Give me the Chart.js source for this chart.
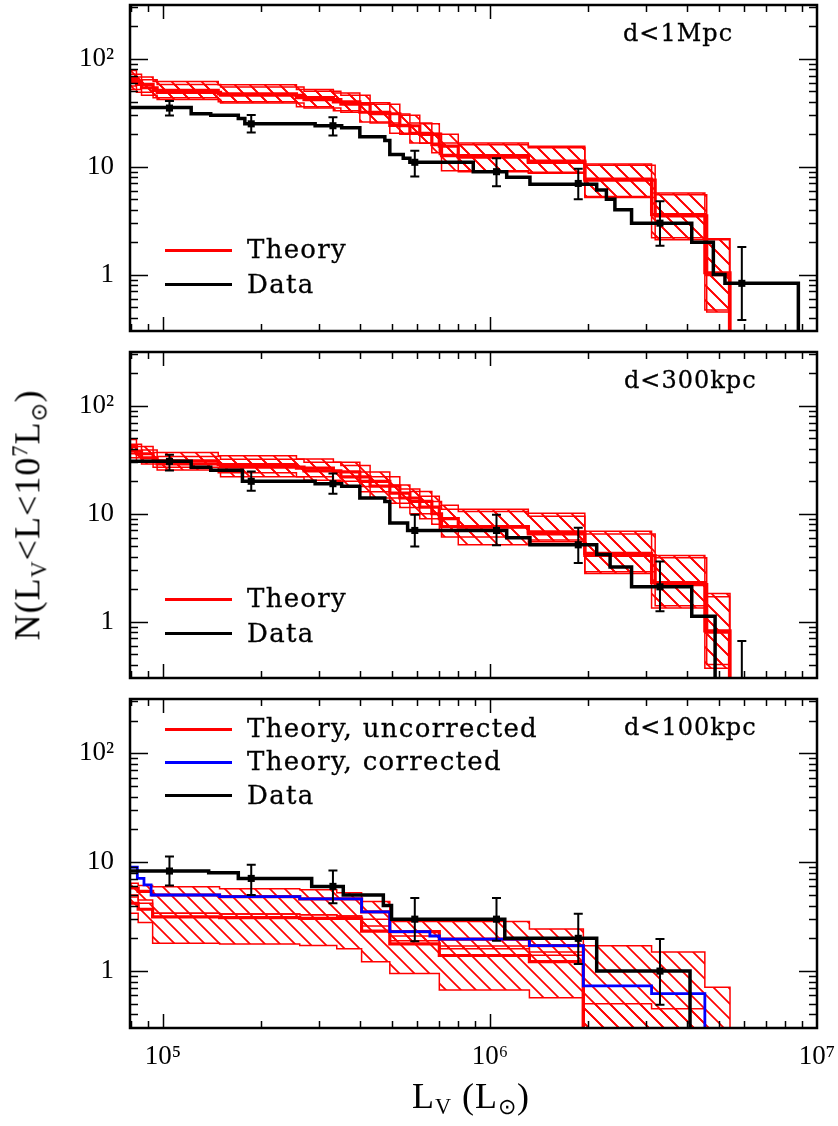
<!DOCTYPE html>
<html>
<head>
<meta charset="utf-8">
<script src="https://cdn.jsdelivr.net/npm/chart.js@4.4.1/dist/chart.umd.min.js"></script>
<style>
  html, body { margin: 0; padding: 0; background: #fff; }
  #wrap { position: relative; width: 838px; height: 1126px; overflow: hidden; }
  canvas { position: absolute; left: 0; }
  .lab { position: absolute; font-family: "DejaVu Serif", serif; font-size: 26px; color: #000;
         white-space: nowrap; line-height: 1; letter-spacing: 1.3px; transform: translateY(-50%);
         -webkit-text-stroke: 0.3px #000; }
  .lab.d { font-size: 24px; letter-spacing: 1px; }
  .key { position: absolute; left: 165px; width: 67px; height: 3px; margin-top: -1.5px; }
  .title { position: absolute; font-family: "Liberation Serif", serif; font-size: 36px; color: #000;
           white-space: nowrap; line-height: 1; letter-spacing: 1px; }
  .title sub { font-size: 0.62em; vertical-align: -0.3em; }
  .title sup { font-size: 0.62em; vertical-align: 0.55em; }
</style>
</head>
<body>
<div id="wrap">
  <canvas id="c1" width="838" height="336" style="top:0px"></canvas>
  <canvas id="c2" width="838" height="336" style="top:347px"></canvas>
  <canvas id="c3" width="838" height="432" style="top:694px"></canvas>

  <div class="lab d" style="left:623px; top:33px">d&lt;1Mpc</div>
  <div class="lab d" style="left:624px; top:380px">d&lt;300kpc</div>
  <div class="lab d" style="left:624px; top:727px">d&lt;100kpc</div>

  <div class="key" style="top:250px; background:#ff0000"></div>
  <div class="lab" style="left:247px; top:249px">Theory</div>
  <div class="key" style="top:284px; background:#000"></div>
  <div class="lab" style="left:247px; top:284px">Data</div>

  <div class="key" style="top:599px; background:#ff0000"></div>
  <div class="lab" style="left:247px; top:598px">Theory</div>
  <div class="key" style="top:633px; background:#000"></div>
  <div class="lab" style="left:247px; top:633px">Data</div>

  <div class="key" style="top:729px; background:#ff0000"></div>
  <div class="lab" style="left:247px; top:728px">Theory, uncorrected</div>
  <div class="key" style="top:762px; background:#0000ff"></div>
  <div class="lab" style="left:247px; top:761px">Theory, corrected</div>
  <div class="key" style="top:795px; background:#000"></div>
  <div class="lab" style="left:247px; top:795px">Data</div>

  <div class="title" style="left:30px; top:515px; transform:translate(-50%,-50%) rotate(-90deg)">N(L<sub>V</sub>&lt;L&lt;10<sup>7</sup>L<sub>⊙</sub>)</div>
  <div class="title" style="left:471px; top:1098px; transform:translate(-50%,-50%)">L<sub>V</sub> (L<sub>⊙</sub>)</div>
</div>

<script>
// ===============================
// DATA
// ===============================
const xMin = 7.93e4, xMax = 1e7;
const yMin = 0.318, yMax = 316;
const xTicks = [1e5, 1e6, 1e7];
const yTicks = [1, 10, 100];
const tickText = { 1: '1', 10: '10', 100: '10²', 100000: '10⁵', 1000000: '10⁶', 10000000: '10⁷' };

// error-bar positions (same luminosities in every panel)
const errL = [1.047e5, 1.862e5, 3.31e5, 5.89e5, 1.047e6, 1.862e6, 3.31e6, 5.89e6];

// --- panel 1: d<1Mpc ---
const p1DataL = [7.93e4, 1.22e5, 1.40e5, 1.70e5, 1.78e5, 2.92e5, 3.52e5, 4.0e5, 4.77e5, 4.94e5, 5.43e5, 5.69e5,
                 8.89e5, 1.125e6, 1.325e6, 2.12e6, 2.27e6, 2.41e6, 2.71e6, 4.14e6, 4.82e6, 5.23e6, 8.77e6];
const p1DataN = [35.5, 31, 30, 28, 25, 24, 23, 19, 17.5, 13, 12, 11, 9, 8, 6.9, 6.1, 5, 4, 3, 2, 1.0, 0.83, 0.1];
const p1ErrN  = [35, 25, 24, 11, 9, 7, 3, 0.83];
const p1ErrLo = [29.8, 20.8, 19.5, 8.1, 6.6, 5.0, 1.85, 0.38];
const p1ErrHi = [40.7, 30.2, 28.8, 14.1, 12.0, 9.6, 4.8, 1.8];

const p1A_L   = [7.93e4, 8.3e4, 9.33e4, 1.476e5, 2.56e5, 3.32e5, 4.0e5, 4.94e5, 5.69e5, 6.64e5, 7.11e5, 1.31e6, 1.95e6, 3.12e6, 4.54e6, 5.42e6];
const p1A_hi  = [78, 68, 61.6, 57.5, 51.9, 48.4, 39.3, 30.8, 25.5, 20.4, 16.6, 15.5, 10.6, 5.7, 2.15, 0.1];
const p1A_mid = [66, 58, 51, 47.3, 43.7, 40, 32, 24.2, 20.4, 16, 12.7, 11.3, 7.7, 3.6, 1.04, 0.1];
const p1A_lo  = [56, 49, 43.7, 40.1, 36, 33, 26, 20.4, 16.6, 13.5, 9.2, 8.9, 5.3, 2.2, 0.47, 0.1];
const p1B_L   = [7.93e4, 8.6e4, 9.6e4, 1.5e5, 2.7e5, 3.5e5, 4.3e5, 5.3e5, 6.1e5, 7.0e5, 8.0e5, 1.31e6, 1.95e6, 3.2e6, 4.6e6, 5.4e6];
const p1B_hi  = [72, 64, 58, 55, 50, 46, 38, 30, 25, 20, 16, 15, 10.3, 5.5, 2.1, 0.1];
const p1B_mid = [62, 54, 49, 46, 42, 38, 31, 24, 20, 15.5, 12.3, 11, 7.5, 3.5, 1.0, 0.1];
const p1B_lo  = [52, 46, 42, 39, 35, 32, 25.5, 20, 16.5, 13, 9.0, 8.7, 5.2, 2.1, 0.45, 0.1];

// --- panel 2: d<300kpc ---
const p2DataL = [7.93e4, 1.22e5, 1.40e5, 1.75e5, 2.92e5, 3.52e5, 4.0e5, 4.77e5, 4.94e5, 5.6e5,
                 1.125e6, 1.325e6, 2.12e6, 2.33e6, 2.71e6, 4.14e6, 4.88e6];
const p2DataN = [30.6, 27, 25.3, 20, 19, 18, 14, 13, 8.2, 7, 6, 5.15, 4.2, 3.2, 2.1, 1.12, 0.1];
const p2ErrN  = [30.6, 20, 19, 7, 7, 5.15, 2.1, null];
const p2ErrLo = [25.2, 16.3, 15.3, 4.97, 5.1, 3.5, 1.25, 0.1];
const p2ErrHi = [35.2, 24.7, 23.6, 9.8, 9.8, 7.4, 3.6, 0.66];

const p2A_hi  = [48.7, 42, 36.9, 34.5, 32.2, 30, 24.4, 18.5, 16.1, 13, 11, 10.1, 6.9, 4.1, 1.82, 0.1];
const p2A_mid = [42, 36, 31, 28.5, 26.5, 24.5, 20, 15.5, 13, 10, 7.6, 6.8, 4.3, 2.3, 0.82, 0.1];
const p2A_lo  = [36, 31, 27, 24, 22, 20, 16, 12.5, 10, 8, 6.1, 5.7, 2.8, 1.34, 0.37, 0.1];
const p2B_hi  = [44, 39, 34, 32, 30, 28, 22, 17, 14.5, 12, 10.5, 9.5, 6.5, 3.9, 1.7, 0.1];
const p2B_mid = [38, 33, 29, 27, 25, 22, 18, 14, 11.5, 9, 7.5, 6.5, 4.1, 2.2, 0.8, 0.1];
const p2B_lo  = [33, 29, 25.5, 22, 20.5, 17.9, 14, 11.4, 9, 7, 5.15, 5.5, 2.9, 1.4, 0.4, 0.1];

// --- panel 3: d<100kpc ---
const p3DataL = [7.93e4, 1.38e5, 1.70e5, 2.85e5, 3.56e5, 4.72e5, 5.0e5, 1.11e6, 2.12e6, 4.09e6];
const p3DataN = [8.3, 8.0, 7.1, 6, 5, 4, 3, 2, 1, 0.1];
const p3ErrN  = [8.3, 7.1, 6, 3, 3, 2, 1];
const p3ErrLo = [6.1, 5.0, 4.2, 1.88, 1.9, 1.16, 0.49];
const p3ErrHi = [11.3, 9.5, 8.4, 4.7, 4.7, 3.36, 1.97];

const p3CorrL = [7.93e4, 8.35e4, 8.75e4, 9.2e4, 1.49e5, 2.62e5, 4.05e5, 4.94e5, 6.55e5, 7.0e5, 1.32e6, 1.93e6, 3.12e6, 4.54e6];
const p3CorrN = [9.0, 7.1, 6.2, 5.0, 4.84, 4.6, 3.5, 2.3, 2.1, 1.97, 1.71, 0.73, 0.62, 0.1];

const p3L     = [7.93e4, 8.4e4, 9.3e4, 1.49e5, 2.62e5, 3.4e5, 4.05e5, 4.94e5, 7.0e5, 1.32e6, 1.93e6, 3.12e6, 4.54e6, 5.42e6];
const p3A_hi  = [6.4, 6.1, 5.95, 5.7, 5.6, 5.25, 4.36, 2.86, 2.86, 2.43, 1.71, 1.5, 0.71, 0.1];
const p3A_mid = [5.8, 5.4, 5.0, 4.84, 4.6, 4.6, 3.5, 2.3, 1.97, 1.71, 0.25, 0.2, 0.1, 0.1];
const p3A_lo  = [5.0, 4.5, 3.4, 3.35, 3.3, 3.2, 2.6, 1.9, 1.6, 1.4, 0.1, 0.1, 0.1, 0.1];
const p3B_hi  = [4.8, 4.2, 3.4, 3.35, 3.3, 3.2, 3.0, 2.1, 1.7, 1.5, 0.5, 0.45, 0.2, 0.1];
const p3B_mid = [4.2, 3.7, 3.15, 3.1, 3.05, 3.05, 2.33, 1.78, 1.39, 1.22, 0.2, 0.1, 0.1, 0.1];
const p3B_lo  = [3.4, 2.8, 1.8, 1.77, 1.72, 1.6, 1.22, 0.95, 0.67, 0.57, 0.1, 0.1, 0.1, 0.1];

// ===============================
// HELPERS
// ===============================
const RED = '#ff0000', BLUE = '#0000ff', BLACK = '#000000';

// step curve: value i holds from L[i] to L[i+1], last value runs to the right edge
function steps(L, v) {
  const pts = L.map((x, i) => ({ x: x, y: v[i] }));
  pts.push({ x: xMax, y: v[v.length - 1] });
  return pts;
}

// "\\" hatching used for the theory bands
function makeHatch() {
  const s = 15;
  const c = document.createElement('canvas');
  c.width = s; c.height = s;
  const g = c.getContext('2d');
  g.strokeStyle = RED;
  g.lineWidth = 1.7;
  g.beginPath();
  g.moveTo(-1, -1); g.lineTo(s + 1, s + 1);
  g.moveTo(-2, s - 2); g.lineTo(2, s + 2);
  g.moveTo(s - 2, -2); g.lineTo(s + 2, 2);
  g.stroke();
  return g.createPattern(c, 'repeat');
}
const hatch = makeHatch();

function band(L, hi, mid, lo) {
  return [
    { data: steps(L, hi), borderColor: RED, borderWidth: 1.5, fill: '+1', backgroundColor: hatch, order: 4 },
    { data: steps(L, lo), borderColor: RED, borderWidth: 1.5, fill: false, order: 4 },
    { data: steps(L, mid), borderColor: RED, borderWidth: 3.2, fill: false, order: 3 }
  ];
}

function dataSets(L, N, errN) {
  return [
    { data: steps(L, N), borderColor: BLACK, borderWidth: 3.5, fill: false, order: 1 },
    { data: errL.slice(0, errN.length).map((x, i) => ({ x: x, y: errN[i] })), showLine: false,
      pointStyle: 'rect', pointRadius: 5, backgroundColor: BLACK, borderColor: BLACK, borderWidth: 0, order: 0 }
  ];
}

// error bars with caps
function errorBars(lo, hi) {
  return {
    id: 'errorBars',
    afterDatasetsDraw(chart) {
      const { ctx, chartArea: a, scales: { x, y } } = chart;
      ctx.save();
      ctx.beginPath(); ctx.rect(a.left, a.top, a.width, a.height); ctx.clip();
      ctx.strokeStyle = BLACK; ctx.lineWidth = 2;
      lo.forEach((v, i) => {
        const px = x.getPixelForValue(errL[i]);
        const t = y.getPixelForValue(hi[i]), b = y.getPixelForValue(lo[i]);
        ctx.beginPath();
        ctx.moveTo(px, t); ctx.lineTo(px, b);
        ctx.moveTo(px - 4.5, t); ctx.lineTo(px + 4.5, t);
        ctx.moveTo(px - 4.5, b); ctx.lineTo(px + 4.5, b);
        ctx.stroke();
      });
      ctx.restore();
    }
  };
}

// inward ticks on all four sides + heavy frame
const frameTicks = {
  id: 'frameTicks',
  afterDatasetsDraw(chart) {
    const { ctx, chartArea: a, scales: { x, y } } = chart;
    ctx.save();
    ctx.strokeStyle = BLACK;
    ctx.lineWidth = 1.5;
    ctx.beginPath();
    for (let e = 4; e <= 6; e++) {
      for (let k = 1; k <= 9; k++) {
        const v = k * Math.pow(10, e);
        if (v < xMin || v >= xMax) continue;
        const px = Math.round(x.getPixelForValue(v)) + 0.5;
        const len = k === 1 ? 14 : 7;
        ctx.moveTo(px, a.bottom); ctx.lineTo(px, a.bottom - len);
        ctx.moveTo(px, a.top); ctx.lineTo(px, a.top + len);
      }
    }
    for (let e = -1; e <= 2; e++) {
      for (let k = 1; k <= 9; k++) {
        const v = k * Math.pow(10, e);
        if (v < yMin || v > yMax) continue;
        const py = Math.round(y.getPixelForValue(v)) + 0.5;
        const len = k === 1 ? 18 : 8;
        ctx.moveTo(a.left, py); ctx.lineTo(a.left + len, py);
        ctx.moveTo(a.right, py); ctx.lineTo(a.right - len, py);
      }
    }
    ctx.stroke();
    ctx.lineWidth = 2.5;
    ctx.strokeRect(a.left, a.top, a.width, a.height);
    ctx.restore();
  }
};

function options(showX, padBottom) {
  const tickFont = { family: 'Liberation Serif', size: 27 };
  return {
    responsive: false,
    animation: false,
    events: [],
    devicePixelRatio: 1,
    layout: { padding: { left: 0, right: 21, top: 1, bottom: padBottom } },
    plugins: { legend: { display: false }, tooltip: { enabled: false } },
    elements: { point: { radius: 0 }, line: { tension: 0, stepped: 'before' } },
    scales: {
      x: {
        type: 'logarithmic', min: xMin, max: xMax, display: showX,
        grid: { display: false, drawTicks: false }, border: { display: false },
        afterBuildTicks: s => { s.ticks = xTicks.map(v => ({ value: v })); },
        afterFit: s => {
          s.height = showX ? 42 : 0;
          s.paddingLeft = 0; s.paddingRight = 0;
        },
        ticks: { autoSkip: false, maxRotation: 0, padding: 13, color: BLACK, font: tickFont,
                 callback: v => tickText[v] || '' }
      },
      y: {
        type: 'logarithmic', min: yMin, max: yMax,
        grid: { display: false, drawTicks: false }, border: { display: false },
        afterBuildTicks: s => { s.ticks = yTicks.map(v => ({ value: v })); },
        afterFit: s => {
          s.width = 130;
          s.paddingTop = 0; s.paddingBottom = 0;
        },
        ticks: { autoSkip: false, padding: 16, color: BLACK, font: tickFont,
                 callback: v => tickText[v] || '' }
      }
    }
  };
}

// ===============================
// CHARTS
// ===============================
new Chart(document.getElementById('c1'), {
  type: 'line',
  data: { datasets: [
    ...band(p1A_L, p1A_hi, p1A_mid, p1A_lo),
    ...band(p1B_L, p1B_hi, p1B_mid, p1B_lo),
    ...dataSets(p1DataL, p1DataN, p1ErrN)
  ] },
  options: options(false, 2),
  plugins: [errorBars(p1ErrLo, p1ErrHi), frameTicks]
});

new Chart(document.getElementById('c2'), {
  type: 'line',
  data: { datasets: [
    ...band(p1A_L, p2A_hi, p2A_mid, p2A_lo),
    ...band(p1B_L, p2B_hi, p2B_mid, p2B_lo),
    ...dataSets(p2DataL, p2DataN, p2ErrN)
  ] },
  options: options(false, 2),
  plugins: [errorBars(p2ErrLo, p2ErrHi), frameTicks]
});

new Chart(document.getElementById('c3'), {
  type: 'line',
  data: { datasets: [
    ...band(p3L, p3A_hi, p3A_mid, p3A_lo),
    ...band(p3L, p3B_hi, p3B_mid, p3B_lo),
    { data: steps(p3CorrL, p3CorrN), borderColor: BLUE, borderWidth: 2.8, fill: false, order: 2 },
    ...dataSets(p3DataL, p3DataN, p3ErrN)
  ] },
  options: options(true, 56),
  plugins: [errorBars(p3ErrLo, p3ErrHi), frameTicks]
});
</script>
</body>
</html>
